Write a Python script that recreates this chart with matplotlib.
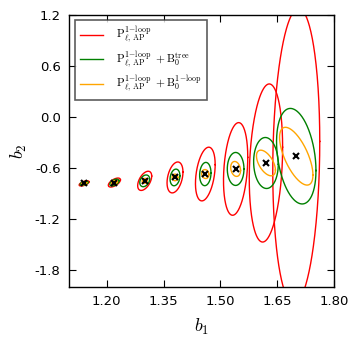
import numpy as np
import matplotlib
matplotlib.use("Agg")
import matplotlib.pyplot as plt

plt.rcParams['mathtext.fontset'] = 'cm'
plt.rcParams['font.family'] = ['DejaVu Sans']

# fiducial centres
b1 = [1.14, 1.22, 1.30, 1.38, 1.46, 1.54, 1.62, 1.70]
b2 = [-0.78, -0.77, -0.75, -0.71, -0.67, -0.61, -0.54, -0.46]

# contour half-extents (b1, b2) and correlation for each case
red_hx = [0.013, 0.016, 0.0185, 0.021, 0.026, 0.032, 0.044, 0.062]
red_hy = [0.031, 0.053, 0.113, 0.182, 0.316, 0.545, 0.93, 1.74]
red_rho = [0.6, 0.6, 0.5, 0.35, 0.35, 0.25, 0.2, 0.1]

green_hx = [0.0105, 0.012, 0.013, 0.013, 0.015, 0.022, 0.0325, 0.052]
green_hy = [0.024, 0.04, 0.069, 0.098, 0.137, 0.194, 0.30, 0.562]
green_rho = [0.5, 0.5, 0.3, 0.2, 0.1, 0.0, -0.05, -0.3]

orange_hx = [0.007, 0.008, 0.0066, 0.0075, 0.0097, 0.013, 0.025, 0.044]
orange_hy = [0.018, 0.023, 0.029, 0.039, 0.053, 0.088, 0.151, 0.34]
orange_rho = [0.5, 0.5, 0.2, 0.0, -0.1, -0.2, -0.55, -0.65]

labels = [r'$\mathrm{P}_{\ell,\,\mathrm{AP}}^{1\!-\!\mathrm{loop}}$',
          r'$\mathrm{P}_{\ell,\,\mathrm{AP}}^{1\!-\!\mathrm{loop}}\ +\mathrm{B}_0^{\mathrm{tree}}$',
          r'$\mathrm{P}_{\ell,\,\mathrm{AP}}^{1\!-\!\mathrm{loop}}\ +\mathrm{B}_0^{1\!-\!\mathrm{loop}}$']
colors = ['red', 'green', 'orange']

xticks = [1.20, 1.35, 1.50, 1.65, 1.80]
yticks = [-1.8, -1.2, -0.6, 0.0, 0.6, 1.2]

fig = plt.figure(figsize=(3.57, 3.43), dpi=100)
ax = fig.add_axes([0.193, 0.163, 0.743, 0.793])

t = np.linspace(0, 2 * np.pi, 400)

def draw(hx, hy, rho, color, label):
    for i in range(len(b1)):
        x = b1[i] + hx[i] * np.cos(t)
        y = b2[i] + hy[i] * (rho[i] * np.cos(t) + np.sqrt(1 - rho[i] ** 2) * np.sin(t))
        ax.plot(x, y, color=color, lw=1.0, label=label if i == 0 else None)

draw(red_hx, red_hy, red_rho, colors[0], labels[0])
draw(green_hx, green_hy, green_rho, colors[1], labels[1])
draw(orange_hx, orange_hy, orange_rho, colors[2], labels[2])

ax.plot(b1, b2, 'x', color='black', ms=4, mew=1.5, zorder=5)

ax.set_xlim(1.10, 1.80)
ax.set_ylim(-2.0, 1.2)
ax.set_xticks(xticks)
ax.set_yticks(yticks)
ax.set_xticklabels(['%.2f' % v for v in xticks])
ax.set_yticklabels(['%.1f' % v for v in yticks])
ax.tick_params(direction='in', top=True, right=True, length=5, width=0.8,
               labelsize=9.5, pad=6)
for s in ax.spines.values():
    s.set_linewidth(1.0)

ax.set_xlabel(r'$b_1$', fontsize=13, labelpad=6)
ax.set_ylabel(r'$b_2$', fontsize=13, labelpad=4)

leg = ax.legend(loc='upper left', fontsize=8.2, frameon=True, fancybox=False,
                handlelength=2.0, handletextpad=1.2, borderpad=0.45,
                labelspacing=0.3, borderaxespad=0.0,
                bbox_to_anchor=(0.022, 0.982))
leg.get_frame().set_edgecolor('#333333')
leg.get_frame().set_linewidth(1.2)

fig.savefig('out.png', dpi=100, facecolor='white')
